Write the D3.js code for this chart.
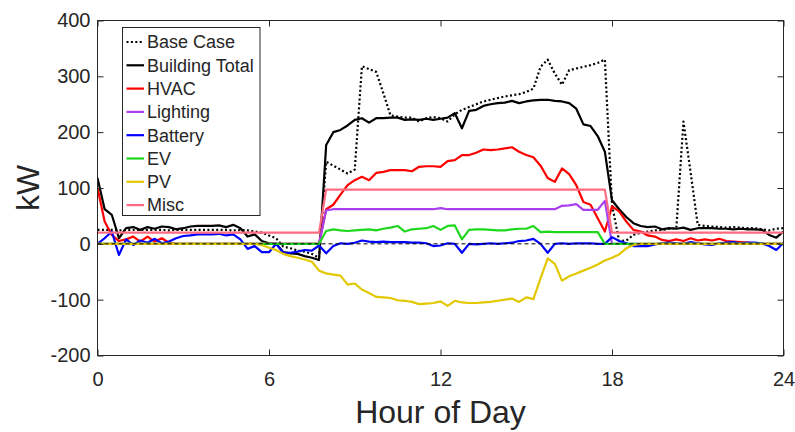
<!DOCTYPE html>
<html>
<head>
<meta charset="utf-8">
<script src="https://cdn.jsdelivr.net/npm/d3@7"></script>
<style>
  body { margin: 0; background: #fff; }
  text { font-family: "Liberation Sans", Arial, sans-serif; fill: #262626; }
</style>
</head>
<body>
<div id="chart"></div>
<script>
// 15 minute steps over the day
var hours = d3.range(97).map(function(i) { return i / 4; });

var xTicks = [0, 6, 12, 18, 24];
var yTicks = [-200, -100, 0, 100, 200, 300, 400];

var baseCase = [
  25, 25, 25, 24, 25, 25, 25, 25,
  25, 25, 24, 25, 25, 25, 25, 25,
  25, 25, 25, 24, 25, 24, 22, 20,
  15, 10, -5, -8, -12, -14, -18, -25,
  147, 140, 133, 126, 133, 318, 313, 308,
  270, 230, 228, 226, 226, 219, 225, 227,
  225, 219, 232, 240, 245, 250, 255, 258,
  261, 264, 266, 268, 272, 278, 317, 330,
  305, 285, 311, 314, 317, 320, 324, 330,
  70, 5, 6, 16, 20, 22, 24, 25,
  27, 28, 219, 128, 34, 32, 31, 30,
  29, 30, 29, 28, 28, 26, 24, 27,
  28
];

var buildingTotal = [
  118, 62, 52, 10, 28, 30, 25, 30,
  27, 31, 30, 26, 28, 31, 32, 32,
  32, 33, 30, 34, 28, 13, 17, 5,
  1, 0, -15, -17, -18, -22, -25, -29,
  177, 200, 204, 212, 222, 225, 217, 225,
  225, 226, 226, 222, 223, 222, 224, 222,
  224, 226, 234, 207, 238, 240, 247, 250,
  252, 253, 256, 252, 255, 257, 258, 258,
  256, 255, 252, 242, 214, 211, 193, 165,
  78, 62, 48, 37, 32, 30, 31, 26,
  28, 27, 29, 25, 28, 28, 28, 27,
  27, 26, 27, 26, 26, 25, 16, 11,
  22
];

var hvac = [
  100, 40, 16, 5, 8, 13, 4, 13,
  4, 10, 2, 0, 0, 0, 0, 0,
  0, 0, 0, 0, 0, 0, 0, 0,
  0, 0, 0, 0, 0, 0, 0, 0,
  62, 70, 88, 105, 114, 120, 114, 127,
  129, 132, 132, 132, 130, 138, 139, 139,
  138, 148, 150, 159, 159, 163, 169, 168,
  169, 171, 173, 165, 159, 155, 140, 118,
  111, 135, 125, 105, 75, 70, 46, 22,
  67, 58, 40, 25, 22, 15, 13, 7,
  5, 8, 5, 10, 6, 8, 6, 9,
  5, 4, 3, 2, 1, 0, 0, 0,
  0
];

var lighting = [
  0, 0, 0, 0, 0, 0, 0, 0,
  0, 0, 0, 0, 0, 0, 0, 0,
  0, 0, 0, 0, 0, 0, 0, 0,
  0, 0, 0, 0, 0, 0, 0, 0,
  60, 62, 62, 62, 62, 62, 62, 62,
  62, 62, 62, 62, 62, 62, 62, 62,
  64, 62, 62, 62, 62, 62, 62, 62,
  62, 62, 62, 62, 62, 62, 62, 62,
  62, 68, 69, 71, 61, 61, 61, 77,
  0, 0, 0, 0, 0, 0, 0, 0,
  0, 0, 0, 0, 0, 0, 0, 0,
  0, 0, 0, 0, 0, 0, 0, 0,
  0
];

var battery = [
  0, 10, 22, -20, 8, -2, 6, 2,
  9, 1, 4, 10, 14, 15, 17, 17,
  17, 18, 15, 17, 8, -9, -4, -15,
  -15, 0, -16, -16, -14, -11, -12, -3,
  -17, -4, 1, 0, 2, 6, 4, 3,
  4, 3, 3, 3, 2, 2, 1, -4,
  -3, 1, 0, -16, 0, -1, 0, 1,
  0, 1, 2, 5, 6, 9, 0, -16,
  0, 1, 0, 1, 1, 1, 0, 0,
  12, 5, 1, -4, -4, -4, -1, 1,
  2, 1, 0, 3, 1, -1, -2, 1,
  2, 3, 1, 2, 2, 1, -4, -11,
  2
];

var ev = [
  0, 0, 0, 0, 0, 0, 0, 0,
  0, 0, 0, 0, 0, 0, 0, 0,
  0, 0, 0, 0, 0, 0, 0, 0,
  0, 0, 0, 0, 0, 0, 0, 0,
  23, 26, 24, 23, 24, 25, 26, 24,
  27, 29, 32, 22, 26, 27, 28, 32,
  25, 32, 33, 8, 25, 26, 26, 25,
  24, 24, 26, 27, 27, 32, 21, 22,
  21, 21, 21, 21, 21, 21, 21, 0,
  0, 0, 0, 0, 0, 0, 0, 0,
  0, 0, 0, 0, 0, 0, 0, 0,
  0, 0, 0, 0, 0, 0, 0, 0,
  0
];

var pv = [
  0, 0, 0, 0, 0, 0, 0, 0,
  0, 0, 0, 0, 0, 0, 0, 0,
  0, 0, 0, 0, 0, 0, 0, -2,
  -7, -11, -18, -22, -25, -28, -32, -48,
  -53, -55, -57, -73, -71, -82, -88, -95,
  -96, -97, -101, -102, -104, -108, -107, -106,
  -103, -111, -102, -105, -106, -106, -105, -104,
  -102, -100, -98, -104, -96, -99, -62, -26,
  -36, -66, -58, -53, -48, -43, -37, -30,
  -25, -19, -8, -2, 0, 0, 0, 0,
  0, 0, 0, 0, 0, 0, 0, 0,
  0, 0, 0, 0, 0, 0, 0, 0,
  0
];

var misc = [
  20, 20, 20, 20, 20, 20, 20, 20,
  20, 20, 20, 20, 20, 20, 20, 20,
  20, 20, 20, 20, 20, 20, 20, 20,
  20, 20, 20, 20, 20, 20, 20, 20,
  97, 97, 97, 97, 97, 97, 97, 97,
  97, 97, 97, 97, 97, 97, 97, 97,
  97, 97, 97, 97, 97, 97, 97, 97,
  97, 97, 97, 97, 97, 97, 97, 97,
  97, 97, 97, 97, 97, 97, 97, 97,
  20, 20, 20, 20, 20, 20, 20, 20,
  20, 20, 20, 20, 20, 20, 20, 20,
  20, 20, 20, 20, 20, 20, 20, 20,
  20
];

var series = [
  { name: "Base Case", values: baseCase, color: "#000000", dash: "2,2.4" },
  { name: "Building Total", values: buildingTotal, color: "#000000" },
  { name: "HVAC", values: hvac, color: "#ff0000" },
  { name: "Lighting", values: lighting, color: "#a83ff0" },
  { name: "Battery", values: battery, color: "#0000ff" },
  { name: "EV", values: ev, color: "#1ed81e" },
  { name: "PV", values: pv, color: "#e2c800" },
  { name: "Misc", values: misc, color: "#ff6b81" }
];

var W = 795, H = 432;
var margin = { top: 20.5, right: 11.5, bottom: 76.5, left: 97.5 },
  width = W - margin.left - margin.right,
  height = H - margin.top - margin.bottom;

var svg = d3.select("#chart").append("svg")
  .attr("width", W)
  .attr("height", H);

var g = svg.append("g")
  .attr("transform", "translate(" + margin.left + "," + margin.top + ")");

var x = d3.scaleLinear().domain([0, 24]).range([0, width]);
var y = d3.scaleLinear().domain([-200, 400]).range([height, 0]);

g.append("clipPath").attr("id", "plot-clip")
  .append("rect")
  .attr("width", width)
  .attr("height", height);

var line = d3.line()
  .x(function(d, i) { return x(hours[i]); })
  .y(function(d) { return y(d); });

var lines = g.append("g").attr("clip-path", "url(#plot-clip)");

series.forEach(function(s) {
  lines.append("path")
    .datum(s.values)
    .attr("fill", "none")
    .attr("stroke", s.color)
    .attr("stroke-width", 2.2)
    .attr("stroke-linejoin", "round")
    .attr("stroke-dasharray", s.dash || null)
    .attr("d", line);
});

// zero reference line
lines.append("line")
  .attr("x1", x(0)).attr("x2", x(24))
  .attr("y1", y(0)).attr("y2", y(0))
  .attr("stroke", "#000")
  .attr("stroke-width", 1)
  .attr("stroke-dasharray", "4,3");

// plain hyphen for negatives, like the original
var plainFormat = function(d) { return String(d); };

// axes, ticks pointing inward
function styleAxis(sel) {
  sel.select(".domain").remove();
  sel.selectAll(".tick line").attr("stroke", "#262626");
  sel.selectAll(".tick text")
    .style("font-family", "'Liberation Sans', Arial, sans-serif")
    .style("font-size", "20px")
    .attr("fill", "#262626");
}

g.append("g")
  .attr("transform", "translate(0," + height + ")")
  .call(d3.axisBottom(x).tickValues(xTicks).tickSize(-6).tickPadding(16).tickFormat(plainFormat))
  .call(styleAxis);

g.append("g")
  .call(d3.axisLeft(y).tickValues(yTicks).tickSize(-6).tickPadding(7).tickFormat(plainFormat))
  .call(styleAxis);

g.append("g")
  .call(d3.axisTop(x).tickValues(xTicks).tickSize(-6).tickFormat(""))
  .call(styleAxis);

g.append("g")
  .attr("transform", "translate(" + width + ",0)")
  .call(d3.axisRight(y).tickValues(yTicks).tickSize(-6).tickFormat(""))
  .call(styleAxis);

g.append("rect")
  .attr("width", width)
  .attr("height", height)
  .attr("fill", "none")
  .attr("stroke", "#262626")
  .attr("stroke-width", 1);

// axis titles
svg.append("text")
  .attr("x", margin.left + width / 2)
  .attr("y", 423)
  .attr("text-anchor", "middle")
  .style("font-size", "32px")
  .text("Hour of Day");

svg.append("text")
  .attr("transform", "translate(39," + (margin.top + height / 2) + ") rotate(-90)")
  .attr("text-anchor", "middle")
  .style("font-size", "32px")
  .text("kW");

// legend
var legend = svg.append("g").attr("transform", "translate(122.5,27.5)");

legend.append("rect")
  .attr("width", 137.5)
  .attr("height", 188)
  .attr("fill", "#fff")
  .attr("stroke", "#262626")
  .attr("stroke-width", 1);

series.forEach(function(s, i) {
  var cy = 14.5 + i * 23.3;
  legend.append("line")
    .attr("x1", 4).attr("x2", 21.5)
    .attr("y1", cy).attr("y2", cy)
    .attr("stroke", s.color)
    .attr("stroke-width", 2.2)
    .attr("stroke-dasharray", s.dash || null);
  legend.append("text")
    .attr("x", 24.5)
    .attr("y", cy)
    .attr("dy", "0.35em")
    .style("font-size", "18px")
    .text(s.name);
});
</script>
</body>
</html>
